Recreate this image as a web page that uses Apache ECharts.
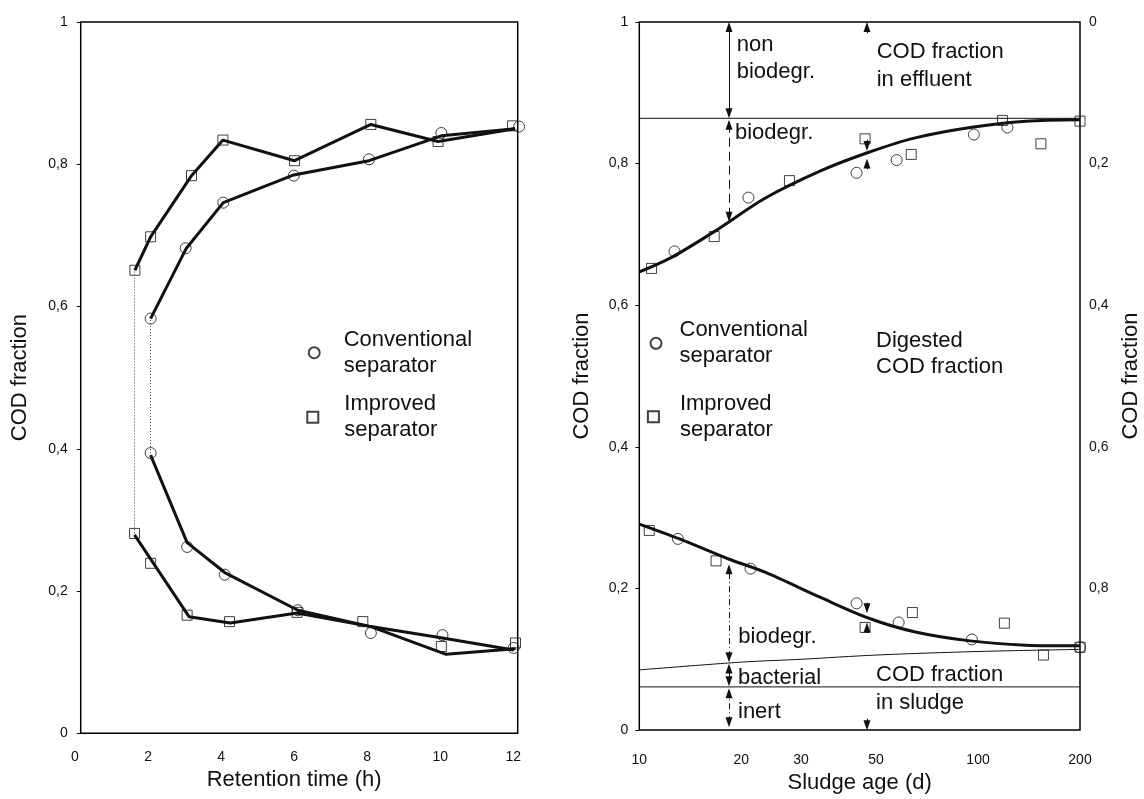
<!DOCTYPE html>
<html>
<head>
<meta charset="utf-8">
<title>COD fraction vs retention time and sludge age</title>
<script src="https://cdn.jsdelivr.net/npm/echarts@6.0.0/dist/echarts.min.js"></script>
<style>
  html, body { margin: 0; padding: 0; background: #fff; }
  #chart { width: 1144px; height: 799px; }
</style>
</head>
<body>
<div id="chart"></div>
<script>
// ---- left panel: retention time (h) ----
const convUpperPts = [[2.07, 0.583], [3.03, 0.682], [4.06, 0.746], [5.99, 0.784], [8.05, 0.807], [10.03, 0.844], [12.16, 0.853]];
const imprUpperPts = [[1.64, 0.651], [2.07, 0.698], [3.19, 0.784], [4.05, 0.834], [6.01, 0.805], [8.10, 0.856], [9.94, 0.832], [11.98, 0.854]];
const convLowerPts = [[2.07, 0.394], [3.07, 0.262], [4.10, 0.223], [6.10, 0.173], [8.10, 0.141], [10.06, 0.138], [12.01, 0.120]];
const imprLowerPts = [[1.63, 0.281], [2.07, 0.239], [3.07, 0.166], [4.23, 0.157], [6.08, 0.170], [7.88, 0.157], [10.03, 0.122], [12.06, 0.127]];

const convUpperLine = [[2.07, 0.583], [3.05, 0.682], [4.06, 0.746], [5.99, 0.785], [8.05, 0.805], [10.03, 0.840], [12.05, 0.850]];
const imprUpperLine = [[1.64, 0.651], [2.07, 0.698], [3.19, 0.784], [4.05, 0.834], [6.01, 0.805], [8.10, 0.856], [9.94, 0.832], [12.05, 0.850]];
const convLowerLine = [[2.07, 0.391], [3.07, 0.268], [4.10, 0.226], [6.10, 0.173], [8.10, 0.150], [10.06, 0.134], [12.01, 0.117]];
const imprLowerLine = [[1.63, 0.279], [3.12, 0.164], [4.25, 0.155], [6.08, 0.169], [8.10, 0.150], [10.16, 0.111], [12.06, 0.119]];

// dotted links between upper and lower value at the shortest retention times: [x, yFrom, yTo]
const dottedLinks = [[1.63, 0.281, 0.651], [2.07, 0.394, 0.583]];

// ---- right panel: sludge age (d), log axis ----
const sludgeTicks = [10, 20, 30, 50, 100, 200];
const effluentCurve = [[10, 0.647], [12.5, 0.668], [16.9, 0.706], [23.5, 0.751], [34.4, 0.790], [47.6, 0.816], [64.8, 0.836], [94.8, 0.851], [138.6, 0.860], [200, 0.862]];
const sludgeCurve = [[10, 0.291], [13.15, 0.270], [18.27, 0.242], [23.5, 0.223], [34.4, 0.187], [47.6, 0.158], [64.8, 0.139], [94.8, 0.126], [138.6, 0.120], [200, 0.119]];
const bacterialCurve = [[10, 0.085], [20, 0.096], [30, 0.100], [50, 0.106], [100, 0.111], [200, 0.114]];
const nonBiodegrLevel = 0.864;
const inertLevel = 0.061;

const rConvUpper = [[12.7, 0.676], [21.0, 0.752], [43.8, 0.787], [57.5, 0.805], [97.2, 0.841], [122.1, 0.851]];
const rImprUpper = [[10.87, 0.652], [16.64, 0.697], [27.75, 0.776], [46.4, 0.835], [63.5, 0.813], [118.1, 0.861], [153.3, 0.828], [200, 0.860]];
const rConvLower = [[13.0, 0.270], [21.3, 0.228], [43.8, 0.179], [58.3, 0.152], [95.9, 0.128], [200, 0.117]];
const rImprLower = [[10.7, 0.282], [16.85, 0.239], [46.4, 0.145], [64.0, 0.166], [119.6, 0.151], [156, 0.106], [200, 0.117]];

// annotation arrows: [sludge age, yFrom, yTo]
const solidDoubleArrows = [[18.4, 0.871, 0.993], [18.4, 0.069, 0.087]];
const dashedDoubleArrows = [[18.4, 0.725, 0.855]];
const dashDotDoubleArrows = [[18.4, 0.103, 0.227], [18.4, 0.011, 0.052]];
const singleArrows = [[47, 0.984, 0.993], [47, 0.016, 0.007], [47, 0.834, 0.825], [47, 0.792, 0.800], [47, 0.180, 0.172], [47, 0.137, 0.145]];

const FONT = '"Liberation Sans", Arial, sans-serif';
const INK = '#111';

const lg = v => Math.log10(v);
const toLog = pts => pts.map(([d, f]) => [lg(d), f]);
const fracLabel = v => (Math.abs(v) < 1e-9 ? '0' : Math.abs(v - 1) < 1e-9 ? '1' : v.toFixed(1).replace('.', ','));
const segs = (arr, logX) => arr.map(([x, a, b]) => ({ coords: [[logX ? lg(x) : x, a], [logX ? lg(x) : x, b]] }));

const markerStyle = { color: 'rgba(0,0,0,0)', borderColor: INK, borderWidth: 1 };
const thick = { color: INK, width: 3 };
const thin = { color: INK, width: 1 };

function lineSeries(data, xi, yi, style, smooth) {
    return {
        type: 'line', xAxisIndex: xi, yAxisIndex: yi, data: data,
        showSymbol: false, smooth: smooth || false, clip: false,
        lineStyle: style, z: 2, silent: true
    };
}

function arrowSeries(data, symbols, lineType) {
    return {
        type: 'lines', coordinateSystem: 'cartesian2d', xAxisIndex: 2, yAxisIndex: 2,
        data: data, symbol: symbols, symbolSize: [[7, 10], [7, 10]],
        lineStyle: { color: INK, width: 1, type: lineType, opacity: 1 },
        silent: true, z: 5
    };
}

const legendBase = {
    orient: 'vertical', padding: 0, itemWidth: 11, itemHeight: 11, itemGap: 0,
    selectedMode: false, formatter: name => name.replace(' ', '\n')
};

const notes = [
    { text: 'non\nbiodegr.', x: 736.7, y: 58.5, lh: 27 },
    { text: 'COD fraction\nin effluent', x: 876.7, y: 66, lh: 28 },
    { text: 'biodegr.', x: 735, y: 133, lh: 26 },
    { text: 'Digested\nCOD fraction', x: 876, y: 354, lh: 26 },
    { text: 'biodegr.', x: 738.3, y: 637, lh: 26 },
    { text: 'bacterial', x: 738, y: 678, lh: 26 },
    { text: 'inert', x: 738, y: 711.5, lh: 26 },
    { text: 'COD fraction\nin sludge', x: 876, y: 689, lh: 28 }
];

const chart = echarts.init(document.getElementById('chart'));

const option = {
    animation: false,
    backgroundColor: '#fff',
    textStyle: { fontFamily: FONT, color: INK },
    grid: [
        { left: 75, top: 22, width: 438.3, height: 711.3 },
        { left: 80.7, top: 22, width: 437, height: 711.3, show: true, borderColor: '#000', borderWidth: 1.5, backgroundColor: 'transparent' },
        { left: 639.3, top: 22, width: 440.7, height: 714, show: true, borderColor: '#000', borderWidth: 1.5, backgroundColor: 'transparent' }
    ],
    xAxis: [
        {
            gridIndex: 0, type: 'value', min: 0, max: 12, interval: 2,
            axisLine: { show: false }, axisTick: { show: false }, splitLine: { show: false },
            axisLabel: { margin: 17, fontSize: 14, color: INK },
            name: 'Retention time (h)', nameLocation: 'middle', nameGap: 33,
            nameTextStyle: { fontSize: 22, color: INK }
        },
        { gridIndex: 1, type: 'value', min: 0, max: 1, show: false },
        {
            gridIndex: 2, type: 'value', min: lg(10), max: lg(200),
            axisLine: { show: false }, axisTick: { show: false }, splitLine: { show: false },
            axisLabel: {
                customValues: sludgeTicks.map(lg), margin: 23, fontSize: 14, color: INK,
                formatter: v => String(Math.round(Math.pow(10, v)))
            },
            name: 'Sludge age (d)', nameLocation: 'middle', nameGap: 34,
            nameTextStyle: { fontSize: 22, color: INK }
        }
    ],
    yAxis: [
        { gridIndex: 0, type: 'value', min: 0, max: 1, show: false },
        {
            gridIndex: 1, type: 'value', min: 0, max: 1, interval: 0.2,
            axisLine: { show: false }, splitLine: { show: false },
            axisTick: { show: true, length: 4, lineStyle: { color: INK, width: 1 } },
            axisLabel: { formatter: fracLabel, margin: 13, fontSize: 14, color: INK, padding: [0, 0, 9, 0] },
            name: 'COD fraction', nameLocation: 'middle', nameRotate: 90, nameGap: 50,
            nameTextStyle: { fontSize: 22, color: INK }
        },
        {
            gridIndex: 2, type: 'value', min: 0, max: 1, interval: 0.2,
            axisLine: { show: false }, splitLine: { show: false },
            axisTick: { show: true, length: 4, lineStyle: { color: INK, width: 1 } },
            axisLabel: { formatter: fracLabel, margin: 11, fontSize: 14, color: INK, padding: [0, 0, 9, 0] },
            name: 'COD fraction', nameLocation: 'middle', nameRotate: 90, nameGap: 46,
            nameTextStyle: { fontSize: 22, color: INK }
        },
        {
            gridIndex: 2, type: 'value', position: 'right', inverse: true, min: 0, max: 1, interval: 0.2,
            axisLine: { show: false }, splitLine: { show: false }, axisTick: { show: false },
            axisLabel: {
                formatter: v => (Math.abs(v - 1) < 1e-9 ? '' : fracLabel(v)),
                margin: 9, fontSize: 14, color: INK, padding: [0, 0, 9, 0]
            },
            name: 'COD fraction', nameLocation: 'middle', nameRotate: 90, nameGap: 40,
            nameTextStyle: { fontSize: 22, color: INK }
        }
    ],
    legend: [
        Object.assign({}, legendBase, { data: ['Conventional separator'], left: 307.7, top: 321.2,
            textStyle: { fontSize: 22, lineHeight: 26, color: INK, padding: [0, 0, 11, 19] } }),
        Object.assign({}, legendBase, { data: ['Improved separator'], left: 306.3, top: 381.3,
            textStyle: { fontSize: 22, lineHeight: 26, color: INK, padding: [0, 0, 20, 21] } }),
        Object.assign({}, legendBase, { data: ['Conventional separator'], left: 649.5, top: 313.8,
            textStyle: { fontSize: 22, lineHeight: 26, color: INK, padding: [7, 0, 0, 13] } }),
        Object.assign({}, legendBase, { data: ['Improved separator'], left: 646.9, top: 382.2,
            textStyle: { fontSize: 22, lineHeight: 26, color: INK, padding: [0, 0, 17, 16] } })
    ],
    graphic: notes.map(n => ({
        type: 'text', x: n.x, y: n.y, silent: true,
        style: { text: n.text, font: '22px ' + FONT, fill: INK, verticalAlign: 'middle', lineHeight: n.lh }
    })),
    series: [
        // left panel
        lineSeries(convUpperLine, 0, 0, thick),
        lineSeries(imprUpperLine, 0, 0, thick),
        lineSeries(convLowerLine, 0, 0, thick),
        lineSeries(imprLowerLine, 0, 0, thick),
        {
            type: 'lines', coordinateSystem: 'cartesian2d', xAxisIndex: 0, yAxisIndex: 0,
            data: segs(dottedLinks, false),
            lineStyle: { color: '#444', width: 1, type: [1, 2], opacity: 1 }, silent: true, z: 1
        },
        {
            name: 'Conventional separator', type: 'scatter', xAxisIndex: 0, yAxisIndex: 0,
            data: convUpperPts.concat(convLowerPts), symbol: 'circle', symbolSize: 11,
            itemStyle: markerStyle, clip: false, z: 3
        },
        {
            name: 'Improved separator', type: 'scatter', xAxisIndex: 0, yAxisIndex: 0,
            data: imprUpperPts.concat(imprLowerPts), symbol: 'rect', symbolSize: 10,
            itemStyle: markerStyle, clip: false, z: 3
        },
        // right panel
        lineSeries(toLog(effluentCurve), 2, 2, thick, 0.3),
        lineSeries(toLog(sludgeCurve), 2, 2, thick, 0.3),
        lineSeries(toLog(bacterialCurve), 2, 2, thin, 0.3),
        lineSeries([[lg(10), nonBiodegrLevel], [lg(200), nonBiodegrLevel]], 2, 2, thin),
        lineSeries([[lg(10), inertLevel], [lg(200), inertLevel]], 2, 2, thin),
        {
            name: 'Conventional separator', type: 'scatter', xAxisIndex: 2, yAxisIndex: 2,
            data: toLog(rConvUpper.concat(rConvLower)), symbol: 'circle', symbolSize: 11,
            itemStyle: markerStyle, clip: false, z: 3
        },
        {
            name: 'Improved separator', type: 'scatter', xAxisIndex: 2, yAxisIndex: 2,
            data: toLog(rImprUpper.concat(rImprLower)), symbol: 'rect', symbolSize: 10,
            itemStyle: markerStyle, clip: false, z: 3
        },
        arrowSeries(segs(solidDoubleArrows, true), ['triangle', 'triangle'], 'solid'),
        arrowSeries(segs(dashedDoubleArrows, true), ['triangle', 'triangle'], [9, 5]),
        arrowSeries(segs(dashDotDoubleArrows, true), ['triangle', 'triangle'], [6, 3, 1, 3]),
        arrowSeries(segs(singleArrows, true), ['none', 'triangle'], 'solid')
    ]
};

chart.setOption(option);
window.addEventListener('resize', () => chart.resize());
</script>
</body>
</html>
